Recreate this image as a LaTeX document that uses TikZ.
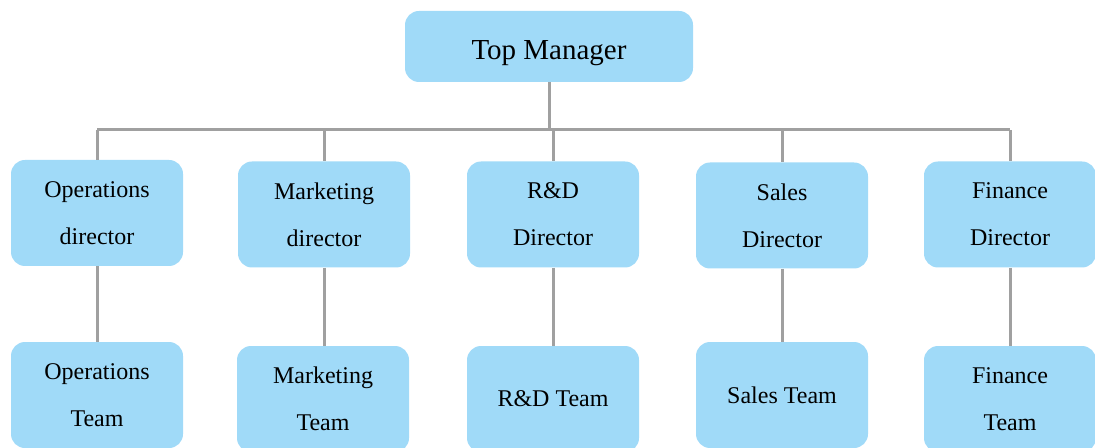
\documentclass[tikz,border=0pt]{standalone}
\usepackage{fontspec}
\setmainfont{Liberation Serif}
\definecolor{boxblue}{HTML}{A0DAF8}
\definecolor{linegray}{HTML}{A0A0A0}

\begin{document}
\begin{tikzpicture}[x=0.5pt,y=-0.5pt,
    box/.style={fill=boxblue, rounded corners=7pt, minimum width=86pt,
      minimum height=53pt, align=center, inner sep=0pt,
      font=\fontsize{12}{23.5}\selectfont},
    link/.style={draw=linegray, line width=1.5pt}]
    % Fix the page to the picture size
    \useasboundingbox (0,0) rectangle (1095,448);

    % Top of the tree
    \node[box, minimum width=144pt, minimum height=35.5pt,
      text height=16pt, text depth=3pt,
      font=\fontsize{14.5}{16}\selectfont] (top) at (549,46.5) {Top Manager};
    \coordinate (bar) at (549,130);

    % Directors
    \node[box] (opsdir) at (97,213) {Operations\\director};
    \node[box] (mktdir) at (324,214.5) {Marketing\\director};
    \node[box] (rnddir) at (553,214.5) {R\&D\\Director};
    \node[box] (saldir) at (782,215.5) {Sales\\Director};
    \node[box] (findir) at (1010,214.5) {Finance\\Director};

    % Teams
    \node[box] (opsteam) at (97,395) {Operations\\Team};
    \node[box] (mktteam) at (323,399) {Marketing\\Team};
    \node[box] (rndteam) at (553,399) {R\&D Team};
    \node[box] (salteam) at (782,395) {Sales Team};
    \node[box] (finteam) at (1010,399) {Finance\\Team};

    % Connectors
    \draw[link] (top.south) -- (bar);
    \draw[link] (bar -| opsdir.north) -- (bar -| findir.north);
    \foreach \d/\t in {opsdir/opsteam, mktdir/mktteam, rnddir/rndteam,
                       saldir/salteam, findir/finteam} {
      \draw[link] (bar -| \d.north) -- (\d.north);
      \draw[link] (\d.south) -- (\d.south |- \t.north);
    }
\end{tikzpicture}
\end{document}
